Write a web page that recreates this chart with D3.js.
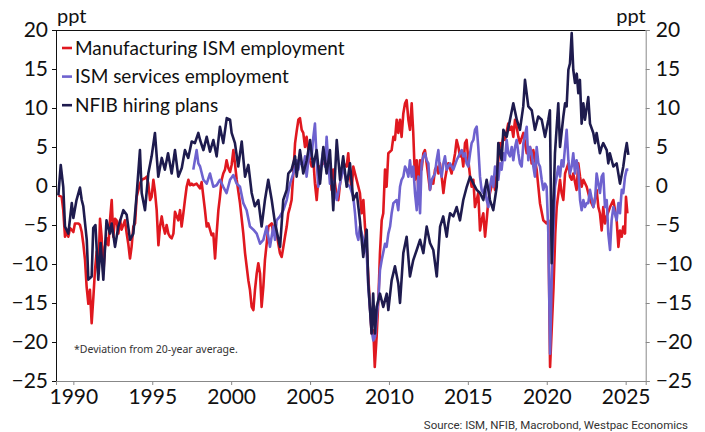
<!DOCTYPE html>
<html>
<head>
<meta charset="utf-8">
<script src="https://cdn.jsdelivr.net/npm/d3@7/dist/d3.min.js"></script>
<style>
  html, body { margin: 0; padding: 0; background: #fff; }
  svg { display: block; }
</style>
</head>
<body>
<svg id="chart" width="705" height="432"></svg>
<script>
// Deviation from 20-year average, ppt. Each entry: [decimal year, value]
const mfgEmployment = [
  [1989.05,-1.2],[1989.26,-1.4],[1989.36,-3.1],[1989.47,-6.5],[1989.58,-5.9],[1989.68,-6.5],[1989.79,-5.4],[1989.89,-5.6],
  [1990.0,-5.9],[1990.1,-4.8],[1990.32,-4.8],[1990.42,-5.0],[1990.53,-5.9],[1990.63,-7.4],[1990.74,-9.5],[1990.84,-12.9],
  [1990.95,-15.1],[1991.05,-13.3],[1991.16,-17.6],[1991.27,-14.2],[1991.37,-10.8],[1991.48,-8.4],[1991.58,-11.2],[1991.69,-4.2],
  [1991.79,-6.5],[1991.9,-11.2],[1992.0,-7.8],[1992.11,-6.7],[1992.22,-7.6],[1992.32,-4.4],[1992.43,-1.8],[1992.53,-6.5],
  [1992.64,-4.2],[1992.74,-4.4],[1992.85,-6.1],[1992.96,-4.4],[1993.06,-5.6],[1993.27,-4.4],[1993.38,-6.1],[1993.48,-7.4],
  [1993.59,-9.3],[1993.69,-7.8],[1993.8,-5.2],[1993.91,-4.8],[1994.01,-1.4],[1994.22,0.3],[1994.33,0.8],[1994.54,1.0],
  [1994.65,1.2],[1994.75,0.3],[1994.86,-1.8],[1994.96,-1.4],[1995.07,0.8],[1995.17,-0.7],[1995.28,-3.1],[1995.39,-7.6],
  [1995.49,-5.2],[1995.6,-3.9],[1995.7,-5.2],[1995.81,-6.1],[1995.91,-5.0],[1996.02,-6.1],[1996.12,-6.5],[1996.23,-6.7],
  [1996.34,-6.1],[1996.44,-3.3],[1996.55,-3.9],[1996.65,-4.4],[1996.76,-3.1],[1996.86,-5.2],[1996.97,-3.5],[1997.07,-1.8],
  [1997.18,-0.1],[1997.29,0.8],[1997.39,0.1],[1997.5,0.3],[1997.6,0.1],[1997.81,0.3],[1998.02,-0.3],[1998.13,0.5],
  [1998.24,-1.4],[1998.34,-3.1],[1998.45,-5.2],[1998.55,-4.8],[1998.66,-5.6],[1998.76,-6.3],[1998.87,-6.1],[1998.98,-9.3],
  [1999.08,-6.1],[1999.19,-3.1],[1999.29,-1.4],[1999.4,0.8],[1999.5,1.6],[1999.61,2.1],[1999.71,3.3],[1999.82,2.3],
  [1999.93,1.8],[2000.03,2.7],[2000.14,4.6],[2000.24,2.9],[2000.35,0.8],[2000.56,-2.2],[2000.77,-6.1],[2000.88,-8.6],
  [2001.09,-12.1],[2001.19,-13.3],[2001.3,-15.5],[2001.41,-15.9],[2001.51,-13.3],[2001.62,-11.2],[2001.72,-9.9],[2001.83,-11.2],
  [2001.93,-15.5],[2002.04,-12.9],[2002.14,-9.5],[2002.25,-7.4],[2002.36,-5.2],[2002.57,-4.8],[2002.67,-6.1],[2002.78,-4.8],
  [2002.88,-6.1],[2003.09,-8.6],[2003.2,-9.1],[2003.31,-7.8],[2003.41,-6.5],[2003.52,-5.2],[2003.62,-3.5],[2003.73,-2.7],
  [2003.83,-1.8],[2003.94,1.6],[2004.05,5.5],[2004.15,7.0],[2004.26,8.5],[2004.36,8.7],[2004.47,7.2],[2004.57,6.8],
  [2004.68,5.0],[2004.78,6.3],[2004.89,4.6],[2004.99,3.3],[2005.1,2.5],[2005.21,3.3],[2005.31,0.3],[2005.42,-1.8],
  [2005.52,0.8],[2005.63,2.5],[2005.84,2.9],[2006.05,5.0],[2006.16,2.1],[2006.26,2.5],[2006.37,-0.5],[2006.47,2.1],
  [2006.69,-1.4],[2006.79,-1.8],[2006.9,0.3],[2007.11,2.9],[2007.32,2.5],[2007.42,4.2],[2007.53,1.2],[2007.64,-0.5],
  [2007.74,2.5],[2007.95,0.8],[2008.16,-0.9],[2008.27,-3.5],[2008.38,-1.8],[2008.48,-5.2],[2008.59,-7.8],[2008.69,-11.6],
  [2008.8,-15.5],[2008.9,-18.9],[2009.01,-18.5],[2009.1,-23.2],[2009.22,-19.3],[2009.33,-14.6],[2009.43,-8.6],[2009.54,-4.4],
  [2009.64,-3.5],[2009.75,2.1],[2009.85,-0.1],[2009.96,4.2],[2010.17,4.6],[2010.28,6.3],[2010.38,5.9],[2010.49,8.5],
  [2010.59,6.8],[2010.7,8.5],[2010.8,6.3],[2010.91,9.3],[2011.02,10.6],[2011.12,11.0],[2011.23,8.5],[2011.33,7.2],
  [2011.44,10.6],[2011.54,6.8],[2011.65,0.8],[2011.76,3.3],[2011.86,-0.5],[2011.97,3.3],[2012.07,2.1],[2012.18,4.2],
  [2012.28,4.6],[2012.39,2.9],[2012.6,-0.5],[2012.71,0.8],[2012.81,0.3],[2012.92,2.1],[2013.02,2.5],[2013.13,1.6],
  [2013.23,2.9],[2013.34,1.2],[2013.45,-0.9],[2013.55,0.8],[2013.66,2.1],[2013.76,2.9],[2013.97,1.6],[2014.19,4.2],
  [2014.29,5.9],[2014.4,5.0],[2014.5,3.8],[2014.61,4.2],[2014.71,2.5],[2014.82,5.5],[2014.92,5.9],[2015.03,3.3],
  [2015.14,1.2],[2015.24,-0.1],[2015.35,0.8],[2015.45,-2.7],[2015.56,-1.8],[2015.66,-0.9],[2015.77,-5.7],[2015.87,-4.4],
  [2015.98,-3.5],[2016.09,-6.5],[2016.19,-4.4],[2016.3,-1.8],[2016.4,-0.9],[2016.61,0.8],[2016.72,-0.5],[2016.83,1.6],
  [2016.93,3.3],[2017.04,5.5],[2017.14,5.0],[2017.25,6.3],[2017.35,5.9],[2017.56,8.0],[2017.67,7.2],[2017.78,7.6],
  [2017.88,6.3],[2017.99,8.5],[2018.09,7.6],[2018.2,6.3],[2018.3,5.5],[2018.52,6.8],[2018.73,4.2],[2018.94,5.0],
  [2019.04,2.9],[2019.15,4.6],[2019.36,2.1],[2019.57,-2.2],[2019.78,-4.4],[2019.99,-4.8],[2020.1,-4.4],[2020.21,-23.2],
  [2020.43,-12.9],[2020.54,-6.1],[2020.63,-2.7],[2020.84,0.8],[2020.94,-0.9],[2021.05,-1.8],[2021.16,1.6],[2021.37,2.9],
  [2021.47,1.2],[2021.58,0.8],[2021.68,1.6],[2021.89,-0.5],[2022.0,2.9],[2022.11,1.2],[2022.21,-0.1],[2022.32,0.8],
  [2022.53,-0.1],[2022.63,-0.9],[2022.74,-1.8],[2022.95,-2.7],[2023.16,-0.5],[2023.27,-2.7],[2023.37,-3.5],[2023.48,-5.7],
  [2023.58,-2.7],[2023.69,-4.8],[2023.8,-3.9],[2024.01,-2.7],[2024.22,-1.8],[2024.43,-4.4],[2024.54,-7.8],[2024.64,-5.7],
  [2024.75,-6.5],[2024.85,-5.2],[2024.96,-6.1],[2025.02,-1.4],[2025.11,-3.5]
];

const servicesEmployment = [
  [1997.6,2.1],[1997.81,4.6],[1997.92,2.9],[1998.03,2.5],[1998.24,0.8],[1998.45,0.3],[1998.66,1.6],[1998.87,-0.1],
  [1999.08,0.1],[1999.29,0.8],[1999.5,-0.1],[1999.71,-0.9],[1999.93,0.8],[2000.14,1.4],[2000.35,0.3],[2000.56,-0.1],
  [2000.77,-2.2],[2000.98,-3.1],[2001.19,-5.2],[2001.41,-5.6],[2001.62,-6.1],[2001.83,-7.4],[2002.04,-6.9],[2002.25,-5.2],
  [2002.46,-7.8],[2002.67,-5.2],[2002.78,-6.9],[2002.88,-4.4],[2003.09,-3.9],[2003.31,-3.1],[2003.52,-1.8],[2003.73,0.3],
  [2003.94,1.6],[2004.05,2.5],[2004.15,3.3],[2004.26,2.1],[2004.36,3.3],[2004.57,2.5],[2004.68,3.8],[2004.78,1.2],
  [2004.99,5.0],[2005.1,3.8],[2005.21,6.3],[2005.31,8.0],[2005.42,3.3],[2005.52,-0.1],[2005.63,0.8],[2005.74,3.3],
  [2005.84,4.6],[2005.95,2.5],[2006.05,6.3],[2006.16,2.9],[2006.26,0.3],[2006.37,0.8],[2006.47,0.3],[2006.69,-1.8],
  [2006.9,0.3],[2007.11,2.5],[2007.32,0.3],[2007.53,-0.1],[2007.74,-1.4],[2007.85,-3.5],[2007.95,-6.1],[2008.06,-6.9],
  [2008.16,-5.2],[2008.38,-6.9],[2008.59,-8.6],[2008.69,-12.9],[2008.9,-18.5],[2009.01,-19.8],[2009.12,-19.3],[2009.22,-16.8],
  [2009.33,-14.6],[2009.43,-10.8],[2009.54,-9.5],[2009.75,-7.4],[2009.85,-7.8],[2009.96,-6.1],[2010.07,-5.2],[2010.17,-3.5],
  [2010.28,-2.2],[2010.49,-1.8],[2010.59,-3.1],[2010.7,-0.1],[2010.8,0.8],[2010.91,1.2],[2011.02,2.5],[2011.12,2.1],
  [2011.23,1.2],[2011.33,3.3],[2011.44,1.2],[2011.54,2.5],[2011.65,-0.9],[2011.76,-3.1],[2011.86,1.2],[2011.97,-3.5],
  [2012.07,2.9],[2012.18,3.8],[2012.28,4.2],[2012.39,3.3],[2012.5,2.9],[2012.6,-0.5],[2012.71,0.8],[2012.81,1.2],
  [2012.92,1.6],[2013.02,3.3],[2013.13,4.6],[2013.23,2.1],[2013.34,1.2],[2013.45,2.9],[2013.55,3.8],[2013.66,2.1],
  [2013.76,2.5],[2013.87,2.9],[2014.08,2.1],[2014.29,3.3],[2014.5,4.2],[2014.61,4.6],[2014.71,3.8],[2014.82,4.2],
  [2014.92,2.9],[2015.03,2.5],[2015.14,4.2],[2015.24,5.5],[2015.35,5.9],[2015.45,7.2],[2015.56,7.6],[2015.66,5.0],
  [2015.77,1.2],[2015.87,-0.5],[2015.98,-0.9],[2016.09,-0.1],[2016.19,-1.8],[2016.3,-2.7],[2016.4,-0.1],[2016.51,1.2],
  [2016.61,-0.1],[2016.72,2.5],[2016.83,1.6],[2016.93,0.8],[2017.04,2.9],[2017.14,2.1],[2017.25,4.2],[2017.35,3.3],
  [2017.46,5.9],[2017.56,4.2],[2017.67,3.8],[2017.78,5.0],[2017.88,3.3],[2017.99,5.0],[2018.09,5.9],[2018.2,4.2],
  [2018.3,2.9],[2018.41,2.5],[2018.52,5.5],[2018.73,7.6],[2018.83,3.3],[2018.94,5.0],[2019.04,4.2],[2019.15,2.5],
  [2019.25,1.2],[2019.36,5.0],[2019.47,2.9],[2019.57,2.5],[2019.68,0.8],[2019.78,-0.5],[2019.89,0.3],[2019.99,-0.1],
  [2020.1,-6.1],[2020.21,-21.5],[2020.31,-12.1],[2020.42,-6.1],[2020.52,-0.1],[2020.63,1.2],[2020.73,2.5],[2020.84,1.2],
  [2020.94,3.3],[2021.05,2.5],[2021.16,5.0],[2021.26,7.2],[2021.37,3.3],[2021.47,1.6],[2021.58,2.5],[2021.68,4.2],
  [2021.79,1.6],[2021.89,3.3],[2022.0,2.1],[2022.11,-1.8],[2022.21,-3.1],[2022.32,-1.8],[2022.42,-2.7],[2022.53,-2.2],
  [2022.63,-2.2],[2022.74,-0.5],[2022.95,-2.7],[2023.06,-1.8],[2023.16,1.6],[2023.27,0.3],[2023.37,-0.9],[2023.48,1.2],
  [2023.58,1.6],[2023.69,-2.7],[2023.8,-1.8],[2023.9,-6.1],[2024.01,-8.2],[2024.11,-4.4],[2024.22,-2.7],[2024.43,-4.4],
  [2024.54,-2.2],[2024.64,-3.5],[2024.75,-0.5],[2024.85,-0.9],[2024.96,1.2],[2025.06,2.1],[2025.17,2.1]
];

const nfibHiring = [
  [1989.05,-1.2],[1989.2,2.7],[1989.36,-0.1],[1989.47,-5.2],[1989.68,-6.1],[1989.9,-2.2],[1990.0,-4.1],[1990.2,-1.8],
  [1990.42,-0.2],[1990.53,-1.8],[1990.63,-2.6],[1990.85,-6.9],[1990.95,-12.0],[1991.16,-11.6],[1991.26,-5.4],[1991.4,-5.0],
  [1991.58,-12.0],[1991.73,-7.3],[1991.9,-12.0],[1992.1,-4.4],[1992.32,-6.1],[1992.43,-4.8],[1992.64,-7.8],[1992.85,-5.2],
  [1993.17,-3.1],[1993.38,-3.7],[1993.59,-6.9],[1993.8,-6.1],[1994.0,-1.4],[1994.22,4.6],[1994.33,-0.9],[1994.54,-3.1],
  [1994.75,1.6],[1994.96,3.8],[1995.17,6.8],[1995.38,1.2],[1995.6,3.6],[1995.8,2.1],[1996.0,4.2],[1996.23,1.6],
  [1996.44,4.6],[1996.65,1.2],[1996.87,2.3],[1997.07,4.6],[1997.28,3.6],[1997.5,5.7],[1997.7,5.5],[1997.92,6.8],
  [1998.03,5.9],[1998.24,4.6],[1998.45,6.3],[1998.66,4.4],[1998.87,5.9],[1999.08,3.8],[1999.29,7.6],[1999.5,5.5],
  [1999.72,8.7],[1999.93,8.5],[2000.03,6.8],[2000.24,5.5],[2000.45,2.5],[2000.67,5.7],[2000.88,1.2],[2001.09,2.7],
  [2001.3,-0.9],[2001.5,-2.6],[2001.72,-1.8],[2001.93,-5.2],[2002.14,-1.8],[2002.35,0.8],[2002.57,-1.8],[2002.78,-4.8],
  [2003.1,-7.8],[2003.3,-1.8],[2003.52,-0.5],[2003.62,1.6],[2003.83,2.1],[2004.05,3.8],[2004.15,1.2],[2004.36,4.6],
  [2004.57,1.6],[2004.79,3.3],[2005.0,5.9],[2005.2,2.5],[2005.42,4.6],[2005.63,0.3],[2005.84,5.0],[2006.05,1.6],
  [2006.26,4.6],[2006.47,-3.1],[2006.69,5.9],[2006.9,0.8],[2007.1,3.8],[2007.32,-0.1],[2007.53,2.9],[2007.74,-1.8],
  [2007.96,-0.9],[2008.16,-4.4],[2008.37,-9.1],[2008.59,-5.6],[2008.69,-12.5],[2008.9,-18.9],[2009.0,-13.8],[2009.11,-18.9],
  [2009.22,-15.5],[2009.43,-13.8],[2009.64,-15.5],[2009.86,-13.8],[2009.96,-15.9],[2010.17,-12.1],[2010.38,-10.3],[2010.59,-12.5],
  [2010.7,-15.0],[2010.91,-8.6],[2011.12,-6.5],[2011.33,-11.6],[2011.54,-9.5],[2011.76,-8.2],[2011.97,-6.9],[2012.18,-8.6],
  [2012.39,-5.2],[2012.6,-7.3],[2012.81,-8.2],[2013.03,-11.6],[2013.24,-5.2],[2013.44,-3.9],[2013.66,-6.5],[2013.76,-4.8],
  [2013.87,-3.5],[2014.08,-3.9],[2014.29,-2.7],[2014.5,-4.4],[2014.71,-1.8],[2014.93,-0.1],[2015.14,1.2],[2015.35,0.3],
  [2015.56,-0.5],[2015.77,-0.9],[2015.98,-1.8],[2016.19,0.8],[2016.4,-1.8],[2016.61,-3.1],[2016.83,-0.1],[2016.93,5.5],
  [2017.14,3.3],[2017.25,7.2],[2017.46,6.3],[2017.67,8.5],[2017.88,10.6],[2018.1,8.5],[2018.3,7.2],[2018.51,10.2],
  [2018.62,13.6],[2018.83,10.2],[2019.05,9.7],[2019.25,7.2],[2019.46,8.9],[2019.68,8.5],[2019.89,6.3],[2020.1,8.5],
  [2020.2,9.7],[2020.31,-9.9],[2020.52,4.2],[2020.73,10.6],[2020.84,5.0],[2021.05,8.9],[2021.16,10.6],[2021.26,10.2],
  [2021.37,14.9],[2021.47,15.7],[2021.58,19.6],[2021.68,14.9],[2021.79,13.2],[2021.9,14.4],[2022.0,11.9],[2022.1,13.6],
  [2022.21,8.0],[2022.32,10.6],[2022.42,8.5],[2022.63,11.4],[2022.74,8.0],[2022.95,6.8],[2023.06,5.5],[2023.16,6.8],
  [2023.37,4.2],[2023.48,5.0],[2023.58,5.5],[2023.8,4.6],[2023.9,2.9],[2024.0,4.2],[2024.22,2.5],[2024.43,2.9],
  [2024.64,0.3],[2024.85,2.5],[2024.96,4.2],[2025.07,5.5],[2025.17,4.0]
];

const seriesNames = ["Manufacturing ISM employment", "ISM services employment", "NFIB hiring plans"];
const seriesColors = ["#e0181f", "#6e62cf", "#1e1b4e"];
const yTicks = [20, 15, 10, 5, 0, -5, -10, -15, -20, -25];
const yearTicks = [1990, 1995, 2000, 2005, 2010, 2015, 2020, 2025];

const svg = d3.select("#chart");
const plotLeft = 56, plotRight = 645.7, plotTop = 30, plotBottom = 381;

const x = d3.scaleLinear().domain([1988.9, 2026.27]).range([plotLeft, plotRight]);
const y = d3.scaleLinear().domain([-25, 20]).range([plotBottom, plotTop]);

const font = "Lato, 'Open Sans', sans-serif";

// frame: top edge in black
svg.append("line").attr("x1", plotLeft).attr("x2", plotRight)
  .attr("y1", plotTop + 0.5).attr("y2", plotTop + 0.5)
  .attr("stroke", "#111").attr("stroke-width", 1);

// left axis
const yAxisL = svg.append("g").attr("transform", `translate(${plotLeft},0)`)
  .call(d3.axisLeft(y).tickValues(yTicks).tickSize(4).tickPadding(4).tickFormat(d3.format("d")));
yAxisL.select(".domain").attr("stroke", "#111");
yAxisL.selectAll(".tick line").attr("stroke", "#111");
yAxisL.selectAll(".tick text").attr("font-size", 21).attr("fill", "#111").style("font-family", font);

// right axis
const yAxisR = svg.append("g").attr("transform", `translate(${plotRight},0)`)
  .call(d3.axisRight(y).tickValues(yTicks).tickSize(4).tickPadding(6).tickFormat(d3.format("d")));
yAxisR.select(".domain").attr("stroke", "#888");
yAxisR.selectAll(".tick line").attr("stroke", "#888");
yAxisR.selectAll(".tick text").attr("font-size", 21).attr("fill", "#111").style("font-family", font);

// bottom axis
const xAxis = svg.append("g").attr("transform", `translate(0,${plotBottom})`)
  .call(d3.axisBottom(x).tickValues(yearTicks).tickSize(4).tickPadding(4).tickFormat(d3.format("d")));
xAxis.select(".domain").attr("stroke", "#888");
xAxis.selectAll(".tick line").attr("stroke", "#888");
xAxis.selectAll(".tick text").attr("font-size", 21).attr("fill", "#111").style("font-family", font);

// unit labels
svg.append("text").attr("x", plotLeft + 1).attr("y", 23).text("ppt")
  .attr("font-size", 20).attr("fill", "#111").style("font-family", font);
svg.append("text").attr("x", plotRight).attr("y", 23).attr("text-anchor", "end").text("ppt")
  .attr("font-size", 20).attr("fill", "#111").style("font-family", font);

// series lines
const line = d3.line().x(d => x(d[0])).y(d => y(d[1]));
const allSeries = [mfgEmployment, servicesEmployment, nfibHiring];
const plot = svg.append("g");
allSeries.forEach((s, i) => {
  plot.append("path").datum(s).attr("d", line)
    .attr("fill", "none").attr("stroke", seriesColors[i])
    .attr("stroke-width", 2.6).attr("stroke-linejoin", "round");
});

// legend
const legend = svg.append("g");
seriesNames.forEach((name, i) => {
  const cy = 48 + i * 28.6;
  legend.append("line").attr("x1", 62).attr("x2", 72).attr("y1", cy).attr("y2", cy)
    .attr("stroke", seriesColors[i]).attr("stroke-width", 2.6);
  legend.append("text").attr("x", 75).attr("y", cy).attr("dy", "0.35em").text(name)
    .attr("font-size", 19).attr("fill", "#111").style("font-family", font);
});

// footnote and source
svg.append("text").attr("x", 74).attr("y", 349).attr("dy", "0.35em")
  .text("*Deviation from 20-year average.")
  .attr("font-size", 10.5).attr("fill", "#333").style("font-family", "'Noto Sans', sans-serif");
svg.append("text").attr("x", 688).attr("y", 425).attr("dy", "0.35em").attr("text-anchor", "end")
  .text("Source: ISM, NFIB, Macrobond, Westpac Economics")
  .attr("font-size", 11.5).attr("fill", "#333").style("font-family", "Roboto, sans-serif");
</script>
</body>
</html>
